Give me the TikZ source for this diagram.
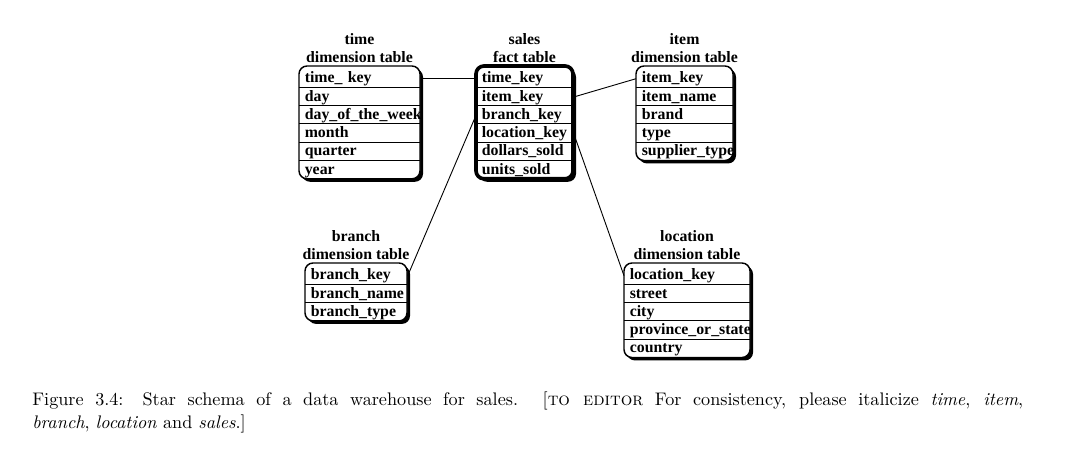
\documentclass[tikz,border=0pt]{standalone}
\usepackage{fontspec}
\usepackage{tikz}
\newfontfamily\tabfont{Liberation Serif}

\tikzset{
    tabtext/.style={font=\tabfont\bfseries\fontsize{8.7}{9.9}\selectfont},
    tabframe/.style={draw, line width=0.8pt, rounded corners=4.4pt, fill=white},
    factframe/.style={tabframe, line width=2pt},
    tabshadow/.style={fill=black, rounded corners=4.4pt},
    tabrow/.style={tabtext, anchor=base west, inner xsep=3pt, inner ysep=0pt,
        text height=6.5pt, text depth=2pt, align=left},
    link/.style={draw, line width=0.5pt},
}

% #1 frame style, #2 name, #3 left, #4 top, #5 width, #6 title, #7 rows
\newcommand{\startable}[7][tabframe]{%
    \foreach \r [count=\n] in {#7} {\xdef\nrows{\n}}
    \pgfmathsetmacro{\tabbot}{#4+3+18.3*\nrows}
    \pgfmathtruncatemacro{\nsep}{\nrows-1}
    \pgfmathsetlengthmacro{\rowwd}{#5*0.55pt-6pt}
    \fill[tabshadow] (#3+3,#4+3) rectangle (#3+#5+3,\tabbot+3);
    \path[#1, draw=none] (#3,#4) rectangle (#3+#5,\tabbot);
    \foreach \i in {1,...,\nsep}
        \draw[line width=0.5pt] (#3,#4+3+18.3*\i) -- (#3+#5,#4+3+18.3*\i);
    \begin{scope}
        \clip[rounded corners=4.4pt] (#3,#4) rectangle (#3+#5,\tabbot);
        \foreach \r [count=\n] in {#7}
            \node[tabrow, text width=\rowwd] (#2-\n) at (#3,#4+3+18.3*\n-4.5) {\r};
    \end{scope}
    \path[#1, fill=none] (#3,#4) rectangle (#3+#5,\tabbot);
    \node[tabtext, align=center, anchor=south, inner sep=0pt] (#2-title)
        at (#3+#5/2,#4-2.5) {#6};
}

\begin{document}
\begin{tikzpicture}[x=0.55pt, y=-0.55pt]
    \useasboundingbox (0,0) rectangle (1083,461);

    \startable{time}{299}{66}{121}{time\\dimension table}
        {time\_ key, day, day\_of\_the\_week, month, quarter, year}
    \startable[factframe]{sales}{476}{66}{97}{sales\\fact table}
        {time\_key, item\_key, branch\_key, location\_key, dollars\_sold, units\_sold}
    \startable{item}{636}{66}{97}{item\\dimension table}
        {item\_key, item\_name, brand, type, supplier\_type}
    \startable{branch}{305}{263}{102}{branch\\dimension table}
        {branch\_key, branch\_name, branch\_type}
    \startable{location}{624}{263}{126}{location\\dimension table}
        {location\_key, street, city, province\_or\_state, country}

    \draw[link] (time-1.east) -- (sales-1.west);
    \draw[link] (sales-2.east) -- (item-1.west);
    \draw[link] (sales-3.west) -- (branch-1.east);
    \draw[link] (sales-4.east) -- (location-1.west);

    \node[anchor=base west, inner sep=0pt, text width=545pt, align=justify,
        font=\fontsize{10}{12.4}\selectfont] (caption) at (32,405.7)
        {Figure 3.4: Star schema of a data warehouse for sales. [\textsc{to editor} For
        consistency, please italicize \emph{time}, \emph{item},\linebreak
        \emph{branch}, \emph{location} and \emph{sales}.]};
\end{tikzpicture}
\end{document}
